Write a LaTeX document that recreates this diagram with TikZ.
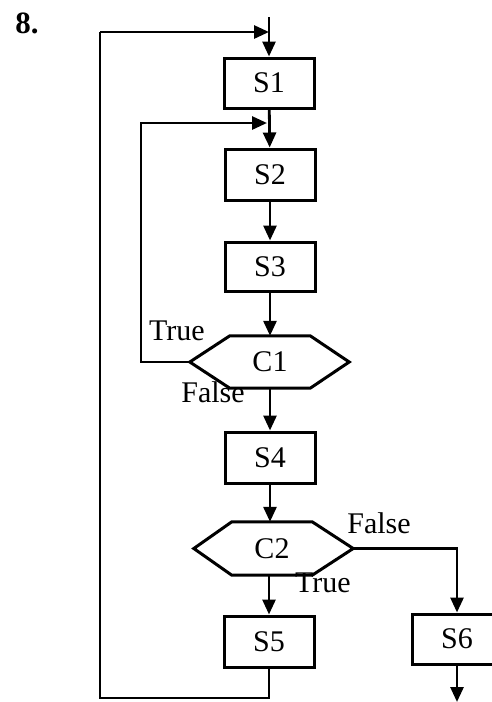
\documentclass[tikz,border=0pt]{standalone}
\usepackage{fontspec}
\setmainfont{Liberation Serif}
\usetikzlibrary{arrows.meta}

\begin{document}
\begin{tikzpicture}[x=1pt, y=-1pt,
	stmt/.style={draw, line width=3pt, minimum width=90pt, minimum height=50pt, inner sep=0pt, font=\fontsize{30}{36}\selectfont},
	cond/.style={minimum width=80pt, minimum height=52pt, inner sep=0pt, font=\fontsize{30}{36}\selectfont},
	lbl/.style={inner sep=0pt, font=\fontsize{30}{36}\selectfont},
	flow/.style={line width=2.8pt, -{Triangle[length=15pt,width=13pt]}},
	wire/.style={line width=2.8pt}]
	\useasboundingbox (0,0) rectangle (492,702);
	\node[font=\bfseries\fontsize{31}{37}\selectfont] (num) at (27,23) {8.};
	% statements
	\node[stmt] (s1) at (269,83) {S1};
	\node[stmt, minimum height=51pt] (s2) at (270,174.5) {S2};
	\node[stmt, minimum height=49pt] (s3) at (270,266.5) {S3};
	\node[stmt, minimum height=51pt] (s4) at (270,457.5) {S4};
	\node[stmt, minimum height=51pt] (s5) at (269,641.5) {S5};
	\node[stmt] (s6) at (457,639) {S6};
	% conditions
	\node[cond] (c1) at (270,362) {C1};
	\node[cond, minimum height=53pt] (c2) at (272,548.5) {C2};
	\coordinate (c1w) at ([xshift=-40pt]c1.west);
	\coordinate (c1e) at ([xshift=39pt]c1.east);
	\coordinate (c2w) at ([xshift=-38pt]c2.west);
	\coordinate (c2e) at ([xshift=41pt]c2.east);
	\draw[line width=3pt] (c1.north west) -- (c1.north east) -- (c1e) -- (c1.south east) -- (c1.south west) -- (c1w) -- cycle;
	\draw[line width=3pt] (c2.north west) -- (c2.north east) -- (c2e) -- (c2.south east) -- (c2.south west) -- (c2w) -- cycle;
	% branch labels
	\node[lbl] (t1) at (177,331) {True};
	\node[lbl] (f1) at (213,392) {False};
	\node[lbl] (f2) at (379,523) {False};
	\node[lbl] (t2) at (323,583) {True};
	% main flow
	\coordinate (top) at (269,17);
	\coordinate (j1) at (269,32);
	\coordinate (j2) at (269,123);
	\coordinate (out) at (457,702);
	\draw[flow] (top) -- (s1);
	\draw[flow] (s1) -- (s2);
	\draw[flow] (s2) -- (s3);
	\draw[flow] (s3) -- (c1.north -| s3);
	\draw[flow] (c1.south -| s4) -- (s4);
	\draw[flow] (s4) -- (c2.north -| s4);
	\draw[flow] (c2.south -| s5) -- (s5);
	\draw[flow] (c2e) -| (s6);
	\draw[flow] (s6) -- (out);
	% loops
	\draw[flow] (c1w) -- (141,362) |- ([xshift=-2pt]j2);
	\draw[wire] (s5) -- (269,698) -- (100,698) -- (100,32);
	\draw[flow] (100,32) -- (j1);
\end{tikzpicture}
\end{document}
